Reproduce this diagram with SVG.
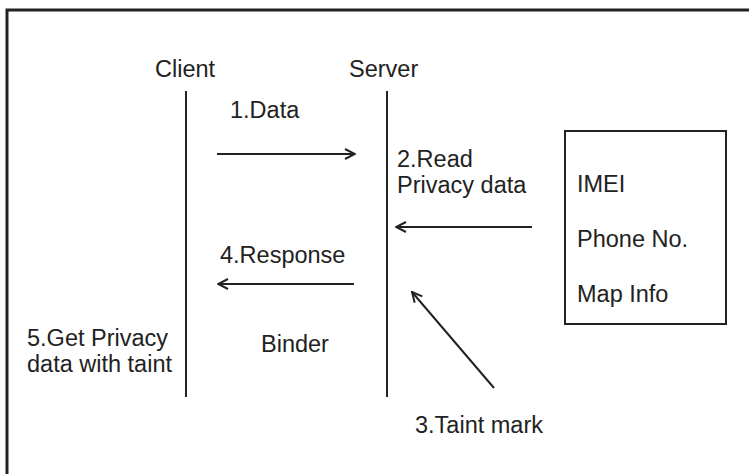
<svg xmlns="http://www.w3.org/2000/svg" width="749" height="474" viewBox="0 0 749 474">
<style>
text{font-family:"Liberation Sans",Arial,sans-serif;font-size:23.5px;fill:#222}
.ln{stroke:#222;stroke-width:2;fill:none}
.ar{stroke:#222;stroke-width:2;fill:none;marker-end:url(#ah)}
</style>
<defs>
<marker id="ah" viewBox="0 0 12 12" refX="11" refY="6" markerWidth="12" markerHeight="12" markerUnits="userSpaceOnUse" orient="auto">
<path d="M1,1 L11,6 L1,11" stroke="#222" stroke-width="2" fill="none"/>
</marker>
</defs>
<rect width="749" height="474" fill="#fff"/>
<path d="M7,474 V10 H749" stroke="#222" stroke-width="3" fill="none"/>
<g id="client">
<text x="155" y="77">Client</text>
<line class="ln" x1="186" y1="91" x2="186" y2="397"/>
</g>
<g id="server">
<text x="349" y="77">Server</text>
<line class="ln" x1="387" y1="91" x2="387" y2="397"/>
</g>
<g id="privacy-store">
<rect class="ln" x="565" y="131" width="161" height="193"/>
<text x="577" y="192">IMEI</text>
<text x="577" y="247">Phone No.</text>
<text x="577" y="302">Map Info</text>
</g>
<g id="labels">
<text x="230" y="118">1.Data</text>
<text x="397" y="167">2.Read</text>
<text x="397" y="193">Privacy data</text>
<text x="220" y="263">4.Response</text>
<text x="27" y="346">5.Get Privacy</text>
<text x="27" y="372">data with taint</text>
<text x="261" y="352">Binder</text>
<text x="415" y="433">3.Taint mark</text>
</g>
<g id="connectors">
<line class="ar" x1="217" y1="154" x2="355" y2="154"/>
<line class="ar" x1="532" y1="227" x2="396" y2="227"/>
<line class="ar" x1="354" y1="284" x2="218" y2="284"/>
<line class="ar" x1="494" y1="388" x2="412" y2="292"/>
</g>
</svg>
